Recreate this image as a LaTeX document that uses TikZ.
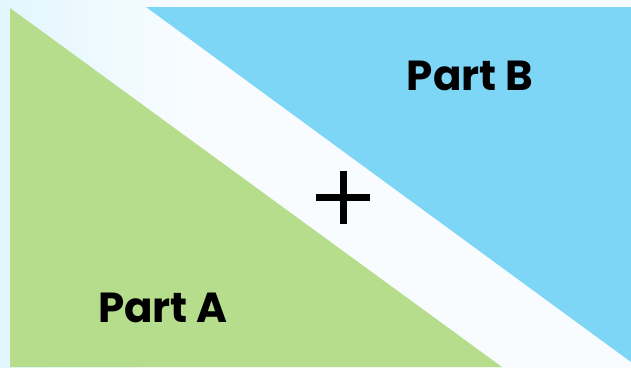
\documentclass[tikz,border=0pt]{standalone}
\usepackage{fontspec}
\newfontfamily\labelfont[UprightFont=* Bold]{Poppins}
\definecolor{greenA}{HTML}{B6DD8C}
\definecolor{blueB}{HTML}{7ED6F7}
\definecolor{bgleft}{HTML}{E2F6FE}
\definecolor{bgright}{HTML}{F8FCFF}
\pgfdeclarehorizontalshading{bgshade}{100bp}{color(0bp)=(bgleft); color(25bp)=(bgleft); color(40bp)=(bgright); color(100bp)=(bgright)}
\begin{document}
\begin{tikzpicture}[x=1pt,y=-1pt,
  partlabel/.style={font=\labelfont\fontsize{42}{42}\selectfont, text=black, inner sep=0pt, anchor=base},
  plusbar/.style={line width=7pt, black}]
\useasboundingbox (0,0) rectangle (631,367);
\shade[shading=bgshade] (0,0) rectangle (631,367);
\fill[greenA] (10,8) -- (502,367) -- (10,367) -- cycle;
\fill[blueB] (146,7) -- (631,7) -- (631,362) -- cycle;
\node[partlabel] (b) at (470,90) {Part B};
\node[partlabel] (a) at (163,322) {Part A};
\coordinate (pl) at (316,197);
\coordinate (pr) at (370,197);
\coordinate (pt) at (343,171);
\coordinate (pb) at (343,224);
\draw[plusbar] (pl) -- (pr);
\draw[plusbar] (pt) -- (pb);
\end{tikzpicture}
\end{document}
